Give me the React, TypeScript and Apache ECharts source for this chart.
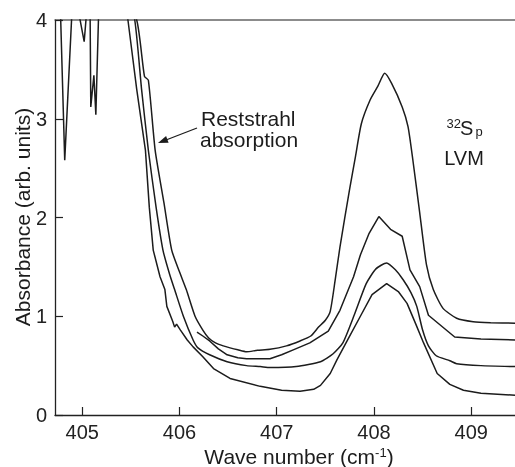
import React, { useEffect, useRef } from "react";
import * as echarts from "echarts";

const xTicks = [405, 406, 407, 408, 409];
const xRange = [404.72, 409.45];
const yRange = [0, 4];

const curveA: [number, number][] = [
  [405.3, 4.6], [405.56, 4.0], [405.64, 3.43], [405.68, 3.39], [405.75, 2.68], [405.84, 2.15],
  [405.92, 1.67], [406.0, 1.45], [406.07, 1.27], [406.16, 1.0], [406.24, 0.86], [406.3, 0.78],
  [406.37, 0.73], [406.45, 0.7], [406.52, 0.68], [406.6, 0.66], [406.69, 0.64], [406.8, 0.655],
  [406.93, 0.665], [407.1, 0.7], [407.24, 0.75], [407.35, 0.8], [407.43, 0.89], [407.5, 0.96],
  [407.55, 1.05], [407.6, 1.36], [407.65, 1.7], [407.75, 2.29], [407.81, 2.62], [407.87, 2.95],
  [407.96, 3.19], [408.04, 3.33], [408.11, 3.46], [408.18, 3.36], [408.29, 3.12], [408.35, 2.92],
  [408.4, 2.58], [408.47, 2.05], [408.54, 1.52], [408.61, 1.27], [408.71, 1.08], [408.85, 0.98],
  [409.02, 0.945], [409.2, 0.935], [409.45, 0.93],
];

const curveB: [number, number][] = [
  [406.18, 0.84], [406.24, 0.8], [406.31, 0.75], [406.4, 0.67], [406.49, 0.61], [406.6, 0.58],
  [406.69, 0.57], [406.83, 0.57], [406.93, 0.57], [407.05, 0.61], [407.17, 0.66], [407.34, 0.73],
  [407.53, 0.85], [407.65, 1.06], [407.79, 1.4], [407.86, 1.62], [407.95, 1.84], [408.05, 2.01],
  [408.17, 1.88], [408.29, 1.81], [408.37, 1.47], [408.47, 1.3], [408.56, 1.01], [408.83, 0.79],
  [409.1, 0.77], [409.45, 0.76],
];

const curveC: [number, number][] = [
  [405.4, 4.6], [405.54, 4.0], [405.61, 3.3], [405.68, 2.68], [405.76, 2.1], [405.83, 1.67],
  [405.9, 1.42], [405.95, 1.27], [406.04, 1.0], [406.14, 0.76], [406.19, 0.68], [406.31, 0.61],
  [406.49, 0.54], [406.69, 0.5], [406.83, 0.49], [406.93, 0.48], [407.2, 0.49], [407.45, 0.54],
  [407.58, 0.62], [407.68, 0.73], [407.8, 1.02], [407.92, 1.33], [408.02, 1.48], [408.13, 1.54],
  [408.22, 1.47], [408.3, 1.37], [408.38, 1.24], [408.44, 1.1], [408.5, 0.86], [408.56, 0.7],
  [408.64, 0.6], [408.78, 0.55], [408.85, 0.52], [409.1, 0.5], [409.45, 0.49],
];

const curveD: [number, number][] = [
  [404.72, 4.6], [404.77, 4.3], [404.82, 2.58], [404.905, 4.3], [404.94, 4.2], [405.02, 3.78],
  [405.055, 4.2], [405.08, 4.2], [405.088, 3.12], [405.12, 3.44], [405.14, 3.04], [405.175, 4.3],
  [405.3, 4.6], [405.43, 4.3], [405.47, 4.0], [405.56, 3.3], [405.65, 2.68], [405.69, 2.1],
  [405.73, 1.67], [405.8, 1.4], [405.85, 1.27], [405.87, 1.1], [405.93, 0.95], [405.95, 0.89],
  [405.97, 0.92], [406.01, 0.86], [406.08, 0.76], [406.14, 0.69], [406.24, 0.59], [406.35, 0.47],
  [406.52, 0.37], [406.83, 0.29], [407.05, 0.25], [407.24, 0.24], [407.38, 0.26], [407.45, 0.3],
  [407.55, 0.42], [407.62, 0.56], [407.74, 0.78], [407.86, 1.0], [407.98, 1.22], [408.13, 1.33],
  [408.25, 1.25], [408.34, 1.13], [408.43, 0.92], [408.51, 0.73], [408.65, 0.42], [408.78, 0.31],
  [408.92, 0.25], [409.1, 0.22], [409.45, 0.2],
];

const FONT = "Liberation Sans, Arial, Helvetica, sans-serif";
const INK = "#1c1c1c";

export default function App() {
  const ref = useRef<HTMLDivElement>(null);
  useEffect(() => {
    const chart = echarts.init(ref.current!, null, { renderer: "svg" });
    const mk = (data: [number, number][], smooth: number) => ({
      type: "line",
      data,
      symbol: "none",
      showSymbol: false,
      clip: true,
      silent: true,
      smooth,
      lineStyle: { color: INK, width: 1.5 },
    });
    chart.setOption({
      animation: false,
      grid: { left: 55, right: 0, top: 20, bottom: 52 },
      xAxis: [
        {
          type: "value",
          min: xRange[0],
          max: xRange[1],
          axisLine: { show: true, lineStyle: { color: "#222", width: 1.3 } },
          axisTick: { show: true, inside: true, length: 8, customValues: xTicks, lineStyle: { color: "#222", width: 1.2 } },
          axisLabel: { customValues: xTicks, fontSize: 20, color: "#222", margin: 7, fontFamily: FONT },
          splitLine: { show: false },
        },
        {
          type: "value",
          position: "top",
          min: xRange[0],
          max: xRange[1],
          axisLine: { show: true, lineStyle: { color: "#666", width: 1.5 } },
          axisTick: { show: false },
          axisLabel: { show: false },
          splitLine: { show: false },
        },
      ],
      yAxis: {
        type: "value",
        min: yRange[0],
        max: yRange[1],
        interval: 1,
        axisLine: { show: true, lineStyle: { color: "#222", width: 1.3 } },
        axisTick: { show: true, inside: true, length: 8, lineStyle: { color: "#222", width: 1.2 } },
        axisLabel: { fontSize: 20, color: "#222", margin: 8, fontFamily: FONT },
        splitLine: { show: false },
      },
      series: [mk(curveA, 0.2), mk(curveB, 0), mk(curveC, 0.2), mk(curveD, 0)],
      graphic: [
        { type: "text", x: 201, y: 118, style: { text: "Reststrahl", font: `21px ${FONT}`, fill: INK, align: "left", verticalAlign: "middle" } },
        { type: "text", x: 200, y: 139, style: { text: "absorption", font: `21px ${FONT}`, fill: INK, align: "left", verticalAlign: "middle" } },
        { type: "line", shape: { x1: 197, y1: 128, x2: 166, y2: 140 }, style: { stroke: INK, lineWidth: 1.3 } },
        { type: "polygon", shape: { points: [[158, 143], [166.1, 136.1], [168.6, 142.7]] }, style: { fill: INK } },
        { type: "text", x: 446.5, y: 123.5, style: { text: "32", font: `13px ${FONT}`, fill: INK, align: "left", verticalAlign: "middle" } },
        { type: "text", x: 460, y: 128, style: { text: "S", font: `20px ${FONT}`, fill: INK, align: "left", verticalAlign: "middle" } },
        { type: "text", x: 475.5, y: 131, style: { text: "p", font: `13px ${FONT}`, fill: INK, align: "left", verticalAlign: "middle" } },
        { type: "text", x: 464, y: 158, style: { text: "LVM", font: `20px ${FONT}`, fill: INK, align: "center", verticalAlign: "middle" } },
        { type: "text", x: 22, y: 217, rotation: Math.PI / 2, style: { text: "Absorbance (arb. units)", font: `21px ${FONT}`, fill: INK, align: "center", verticalAlign: "middle" } },
        {
          type: "text",
          x: 299,
          y: 456,
          style: {
            text: "{a|Wave number (cm}{b|-1}{a|)}",
            align: "center",
            verticalAlign: "middle",
            rich: {
              a: { fontSize: 21, fontFamily: FONT, fill: INK },
              b: { fontSize: 13, fontFamily: FONT, fill: INK, verticalAlign: "top" },
            },
          },
        },
      ],
    });
    return () => chart.dispose();
  }, []);
  return <div ref={ref} style={{ position: "fixed", left: 0, top: 0, width: 515, height: 467 }} />;
}
